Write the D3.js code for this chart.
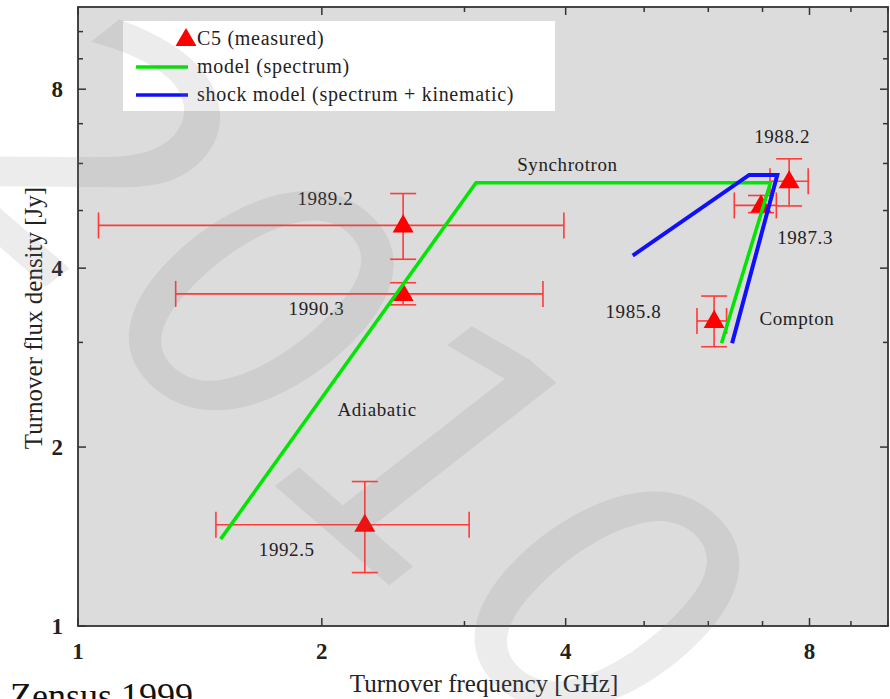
<!DOCTYPE html>
<html>
<head>
<meta charset="utf-8">
<script src="https://cdn.jsdelivr.net/npm/d3@7"></script>
<style>
  body { margin: 0; background: #fff; }
  svg { display: block; }
  text { font-family: "Liberation Serif", "DejaVu Serif", serif; }
</style>
</head>
<body>
<svg id="chart" width="890" height="699"></svg>
<script>
// measured turnover points (C5), with error ranges
var epochs   = ["1985.8", "1987.3", "1988.2", "1989.2", "1990.3", "1992.5"];
var freq     = [6.10, 6.97, 7.55, 2.52, 2.52, 2.26];
var freqLo   = [5.81, 6.46, 7.15, 1.06, 1.32, 1.48];
var freqHi   = [6.32, 7.28, 7.97, 3.98, 3.75, 3.04];
var flux     = [3.26, 5.10, 5.60, 4.72, 3.62, 1.48];
var fluxLo   = [2.95, 4.96, 5.09, 4.14, 3.47, 1.23];
var fluxHi   = [3.59, 5.30, 6.11, 5.34, 3.78, 1.75];

// model tracks
var modelFreq = [1.50, 3.10, 7.16, 6.23];
var modelFlux = [1.40, 5.57, 5.57, 2.99];
var shockFreq = [4.84, 6.74, 7.30, 6.42];
var shockFlux = [4.20, 5.74, 5.74, 2.99];

// text annotations in the plot (data coordinates)
var notes     = ["1988.2", "1987.3", "1985.8", "1989.2", "1990.3", "1992.5", "Synchrotron", "Compton", "Adiabatic"];
var noteFreq  = [7.40, 7.90, 4.85, 2.02, 1.97, 1.81, 4.02, 7.72, 2.34];
var noteFlux  = [6.66, 4.50, 3.37, 5.22, 3.41, 1.34, 5.96, 3.28, 2.31];

var xTickLabels = [1, 2, 4, 8];
var yTickLabels = [1, 2, 4, 8];
var minorTicksX = [1, 2, 3, 4, 5, 6, 7, 8, 9, 10];
var minorTicksY = [1, 2, 3, 4, 5, 6, 7, 8, 9, 10];

var svg = d3.select("#chart");

// plot box (note: "top" is reserved by window, so use other names)
var pLeft = 78, pRight = 888, pTop = 7, pBottom = 626;

var x = d3.scaleLog().domain([1, 10]).range([pLeft, pRight]);
var y = d3.scaleLog().domain([1, 11]).range([pBottom, pTop]);

var red = "#ff3a3a";

// plot background
svg.append("rect")
	.attr("x", pLeft).attr("y", pTop)
	.attr("width", pRight - pLeft).attr("height", pBottom - pTop)
	.style("fill", "#dcdcdc");

// ticks on all four sides, pointing inwards
var tickG = svg.append("g").style("stroke", "#333").style("stroke-width", 1.5);
minorTicksX.forEach(function(v) {
	var len = xTickLabels.indexOf(v) >= 0 ? 8 : 5;
	tickG.append("line").attr("x1", x(v)).attr("x2", x(v)).attr("y1", pBottom).attr("y2", pBottom - len);
	tickG.append("line").attr("x1", x(v)).attr("x2", x(v)).attr("y1", pTop).attr("y2", pTop + len);
});
minorTicksY.forEach(function(v) {
	var len = yTickLabels.indexOf(v) >= 0 ? 8 : 5;
	tickG.append("line").attr("y1", y(v)).attr("y2", y(v)).attr("x1", pLeft).attr("x2", pLeft + len);
	tickG.append("line").attr("y1", y(v)).attr("y2", y(v)).attr("x1", pRight).attr("x2", pRight - len);
});

// frame
svg.append("rect")
	.attr("x", pLeft).attr("y", pTop)
	.attr("width", pRight - pLeft).attr("height", pBottom - pTop)
	.style("fill", "none").style("stroke", "#333").style("stroke-width", 1.8);

// tick labels
svg.selectAll(".xlab")
	.data(xTickLabels)
	.enter().append("text")
	.attr("class", "xlab")
	.attr("x", function(d) { return x(d); })
	.attr("y", 659)
	.attr("text-anchor", "middle")
	.style("font-size", "23px")
	.style("font-weight", "bold")
	.style("fill", "#222")
	.text(function(d) { return d; });

svg.selectAll(".ylab")
	.data(yTickLabels)
	.enter().append("text")
	.attr("class", "ylab")
	.attr("x", 63)
	.attr("y", function(d) { return y(d) + 8; })
	.attr("text-anchor", "end")
	.style("font-size", "23px")
	.style("font-weight", "bold")
	.style("fill", "#222")
	.text(function(d) { return d; });

// axis titles
svg.append("text")
	.attr("x", 484).attr("y", 692)
	.attr("text-anchor", "middle")
	.style("font-size", "25px")
	.style("fill", "#222")
	.text("Turnover frequency [GHz]");

svg.append("text")
	.attr("transform", "translate(42,318) rotate(-90)")
	.attr("text-anchor", "middle")
	.style("font-size", "25px")
	.style("fill", "#222")
	.text("Turnover flux density [Jy]");

svg.append("text")
	.attr("x", 10).attr("y", 708)
	.style("font-size", "36px")
	.style("fill", "#111")
	.text("Zensus 1999");

// legend box
var legend = svg.append("g");
legend.append("rect")
	.attr("x", 123).attr("y", 21)
	.attr("width", 432).attr("height", 90)
	.style("fill", "#fff");
legend.append("path")
	.attr("d", d3.symbol().type(d3.symbolTriangle).size(190))
	.attr("transform", "translate(186,40)")
	.style("fill", "#ff0000");
legend.append("line")
	.attr("x1", 136).attr("x2", 188).attr("y1", 67).attr("y2", 67)
	.style("stroke", "#00e600").style("stroke-width", 3.5);
legend.append("line")
	.attr("x1", 136).attr("x2", 188).attr("y1", 95).attr("y2", 95)
	.style("stroke", "#1010ff").style("stroke-width", 3.5);
var legendText = ["C5 (measured)", "model (spectrum)", "shock model (spectrum + kinematic)"];
legend.selectAll(".ltxt")
	.data(legendText)
	.enter().append("text")
	.attr("class", "ltxt")
	.attr("x", 197)
	.attr("y", function(d, i) { return 45 + i * 28; })
	.style("font-size", "20px")
	.style("letter-spacing", "0.7px")
	.style("fill", "#222")
	.text(function(d) { return d; });

// error bars
var pts = epochs.map(function(e, i) {
	return { epoch: e, x: freq[i], y: flux[i], x0: freqLo[i], x1: freqHi[i], y0: fluxLo[i], y1: fluxHi[i] };
});
var cap = 13;
var eb = svg.selectAll(".eb")
	.data(pts)
	.enter().append("g")
	.attr("class", "eb")
	.style("stroke", red)
	.style("stroke-width", 1.6);
eb.append("line")
	.attr("x1", function(d) { return x(d.x0); }).attr("x2", function(d) { return x(d.x1); })
	.attr("y1", function(d) { return y(d.y); }).attr("y2", function(d) { return y(d.y); });
eb.append("line")
	.attr("x1", function(d) { return x(d.x); }).attr("x2", function(d) { return x(d.x); })
	.attr("y1", function(d) { return y(d.y0); }).attr("y2", function(d) { return y(d.y1); });
eb.append("line")
	.attr("x1", function(d) { return x(d.x0); }).attr("x2", function(d) { return x(d.x0); })
	.attr("y1", function(d) { return y(d.y) - cap; }).attr("y2", function(d) { return y(d.y) + cap; });
eb.append("line")
	.attr("x1", function(d) { return x(d.x1); }).attr("x2", function(d) { return x(d.x1); })
	.attr("y1", function(d) { return y(d.y) - cap; }).attr("y2", function(d) { return y(d.y) + cap; });
eb.append("line")
	.attr("x1", function(d) { return x(d.x) - cap; }).attr("x2", function(d) { return x(d.x) + cap; })
	.attr("y1", function(d) { return y(d.y0); }).attr("y2", function(d) { return y(d.y0); });
eb.append("line")
	.attr("x1", function(d) { return x(d.x) - cap; }).attr("x2", function(d) { return x(d.x) + cap; })
	.attr("y1", function(d) { return y(d.y1); }).attr("y2", function(d) { return y(d.y1); });

// triangles
svg.selectAll(".pt")
	.data(pts)
	.enter().append("path")
	.attr("class", "pt")
	.attr("d", d3.symbol().type(d3.symbolTriangle).size(190))
	.attr("transform", function(d) { return "translate(" + x(d.x) + "," + (y(d.y) + 1) + ")"; })
	.style("fill", "#ff0000");

// model lines drawn over the points, as in the original
var line = d3.line()
	.x(function(d) { return x(d[0]); })
	.y(function(d) { return y(d[1]); });

svg.append("path")
	.datum(d3.zip(modelFreq, modelFlux))
	.attr("d", line)
	.style("fill", "none")
	.style("stroke", "#00e600")
	.style("stroke-width", 3.5)
	.style("stroke-linejoin", "miter");

svg.append("path")
	.datum(d3.zip(shockFreq, shockFlux))
	.attr("d", line)
	.style("fill", "none")
	.style("stroke", "#1010ff")
	.style("stroke-width", 4)
	.style("stroke-linejoin", "miter");

// annotations
svg.selectAll(".note")
	.data(notes)
	.enter().append("text")
	.attr("class", "note")
	.attr("x", function(d, i) { return x(noteFreq[i]); })
	.attr("y", function(d, i) { return y(noteFlux[i]) + 6; })
	.attr("text-anchor", "middle")
	.style("font-size", "19px")
	.style("letter-spacing", "0.6px")
	.style("fill", "#222")
	.text(function(d) { return d; });

// big grey "2010" watermark over everything
svg.append("text")
	.attr("transform", "translate(-84,174) rotate(41)")
	.style("font-family", "'DejaVu Sans', sans-serif")
	.style("font-style", "italic")
	.style("font-size", "360px")
	.style("fill", "#808080")
	.style("fill-opacity", 0.15)
	.text("2010");
</script>
</body>
</html>
